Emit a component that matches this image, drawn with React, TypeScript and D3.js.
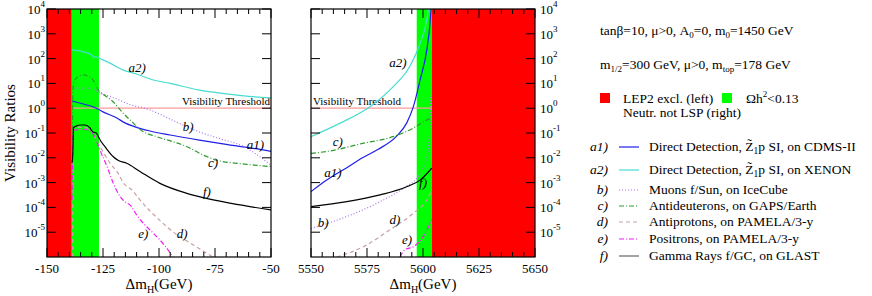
import React from 'react';
import * as d3 from 'd3';

type Pt = [number, number];

// ---- left panel (x = delta m_H, GeV) ----
const leftA1: Pt[] = [[-138.8, 1.95], [-135, 1.58], [-131, 1.26], [-128, 1.0], [-125, 0.71], [-118.8, 0.4], [-115, 0.25], [-111.6, 0.19], [-104, 0.12], [-95, 0.083], [-82, 0.052], [-70, 0.035], [-59, 0.025], [-50, 0.018]];
const leftA2: Pt[] = [[-138.8, 224], [-135, 200], [-130, 141], [-129, 112], [-128.3, 118], [-125, 89], [-121, 60], [-118.8, 46], [-115, 32], [-110, 24], [-104, 15], [-95, 10], [-82, 5.4], [-70, 3.8], [-60, 3.0], [-50, 2.6]];
const leftB: Pt[] = [[-138.5, 6.5], [-131, 6.5], [-129, 5.6], [-126, 4.0], [-121, 2.8], [-113, 1.4], [-104, 0.85], [-96, 0.4], [-82, 0.11], [-72, 0.056], [-62, 0.028], [-55, 0.011], [-50, 0.005]];
const leftC: Pt[] = [[-138.7, 0.008], [-138.4, 6.3], [-137.5, 14], [-135.5, 20], [-133.5, 22], [-131.5, 19], [-130, 16], [-128.6, 10], [-127, 5.4], [-124, 3.2], [-121, 2.0], [-116, 0.63], [-112, 0.28], [-108, 0.13], [-101, 0.071], [-94, 0.045], [-87.5, 0.028], [-80, 0.0126], [-74, 0.0079], [-62, 0.0056], [-50, 0.0044]];
const leftD: Pt[] = [[-138.6, 1e-6], [-138.2, 0.16], [-136, 0.17], [-131, 0.15], [-129.5, 0.1], [-128, 0.05], [-126, 0.025], [-122, 0.0063], [-118, 0.0022], [-116, 0.001], [-112, 5e-4], [-108.5, 2e-4], [-100, 3.2e-5], [-92, 7.9e-6], [-85, 3.2e-6], [-76, 1e-6]];
const leftE: Pt[] = [[-138.8, 2e-4], [-138.3, 0.13], [-133, 0.14], [-130, 0.11], [-128.5, 0.063], [-126.3, 0.02], [-123, 0.004], [-120.4, 9.3e-4], [-117, 2.5e-4], [-114.4, 1.5e-4], [-113, 1.26e-4], [-110, 5e-5], [-107, 2.3e-5], [-103, 1e-5], [-99.6, 4.9e-6], [-95, 1.45e-6], [-92.5, 6.3e-7]];
const leftF: Pt[] = [[-139, 0.0079], [-138.8, 0.0063], [-138.5, 0.012], [-138.2, 0.16], [-137, 0.19], [-135, 0.21], [-133, 0.21], [-130.8, 0.16], [-129.5, 0.11], [-128, 0.1], [-126.3, 0.052], [-123.7, 0.025], [-120.4, 0.011], [-118.3, 0.0079], [-114.4, 0.006], [-108.5, 0.0028], [-99.6, 9.3e-4], [-87.6, 3.7e-4], [-75.8, 2e-4], [-63.8, 1.26e-4], [-50, 7.9e-5]];

// ---- right panel ----
const rightA1: Pt[] = [[5550, 4.3e-4], [5557, 1.26e-3], [5566, 4e-3], [5573, 0.01], [5580, 0.022], [5588, 0.071], [5592.7, 0.25], [5595.7, 1.15], [5598.7, 13.8], [5601.7, 224], [5603, 1950], [5603.6, 1e4]];
const rightA2: Pt[] = [[5550, 0.071], [5563, 0.25], [5576.3, 1.15], [5586.7, 7.4], [5594, 47], [5598.7, 417], [5601.7, 3630], [5602.4, 1e4]];
const rightB: Pt[] = [[5550, 1.4e-5], [5566, 4.3e-5], [5580.8, 1.7e-4], [5591.2, 5.9e-4], [5598.7, 2.3e-3], [5601.7, 0.011], [5602.7, 0.05], [5603.5, 3]];
const rightC: Pt[] = [[5550, 0.015], [5560, 0.02], [5573, 0.038], [5586.6, 0.071], [5595.5, 0.155], [5601.6, 0.33], [5603.4, 0.39]];
const rightD: Pt[] = [[5561.5, 1e-6], [5573.4, 2.6e-6], [5585.3, 1.26e-5], [5595.7, 5.9e-5], [5601.7, 2e-4], [5603.9, 5e-4]];
const rightE: Pt[] = [[5589.7, 1e-6], [5592, 2e-6], [5595.7, 2.6e-6], [5600.1, 6.6e-6], [5603.9, 3.2e-5]];
const rightF: Pt[] = [[5550, 1.07e-4], [5566, 1.7e-4], [5580.8, 3.2e-4], [5592.7, 6.8e-4], [5598.7, 1.26e-3], [5603.9, 3.8e-3]];

const leftTicks = [-150, -125, -100, -75, -50];
const rightTicks = [5550, 5575, 5600, 5625, 5650];
const decades = [-5, -4, -3, -2, -1, 0, 1, 2, 3, 4];

const legendTags = ['a1)', 'a2)', 'b)', 'c)', 'd)', 'e)', 'f)'];
const legendTexts = [
  'Direct Detection, Z\u0303|1|p SI, on CDMS-II',
  'Direct Detection, Z\u0303|1|p SI, on XENON',
  'Muons f/Sun, on IceCube',
  'Antideuterons, on GAPS/Earth',
  'Antiprotons, on PAMELA/3-y',
  'Positrons, on PAMELA/3-y',
  'Gamma Rays f/GC, on GLAST',
];

const styles: Record<string, { color: string; dash?: string; legendColor?: string }> = {
  a1: { color: '#1f1fe6' },
  a2: { color: '#48dcd0' },
  b: { color: '#a872e8', dash: '1,2' },
  c: { color: '#2e9b2e', dash: '5,2,1,2' },
  d: { color: '#c8a0a0', dash: '4,3' },
  e: { color: '#f020f0', dash: '5,2,1,2' },
  f: { color: '#000000', legendColor: '#666' },
};
const seriesKeys = ['a1', 'a2', 'b', 'c', 'd', 'e', 'f'];

const W = 872, H = 296;
const TOP = 9, BOTTOM = 257;
const FONT = '"Liberation Serif", "Times New Roman", serif';

const y = d3.scaleLog().domain([1e-6, 1e4]).range([BOTTOM, TOP]);

const panels = [
  {
    id: 'L', x0: 47, x1: 271, domain: [-150, -50], red: [-150, -139], green: [-139, -126.8],
    ticks: leftTicks, thr: [-139, -50], thrAnchor: 'end',
    data: { a1: leftA1, a2: leftA2, b: leftB, c: leftC, d: leftD, e: leftE, f: leftF } as Record<string, Pt[]>,
    labels: [['a2)', -109.8, 42], ['b)', -87, 0.19], ['a1)', -57, 0.033], ['c)', -75.9, 0.0068], ['f)', -78.6, 4.2e-4], ['e)', -107, 9.3e-6], ['d)', -89.7, 9.3e-6]] as [string, number, number][],
  },
  {
    id: 'R', x0: 311, x1: 535, domain: [5550, 5650], red: [5604, 5650], green: [5597.2, 5604],
    ticks: rightTicks, thr: [5550, 5604], thrAnchor: 'start',
    data: { a1: rightA1, a2: rightA2, b: rightB, c: rightC, d: rightD, e: rightE, f: rightF } as Record<string, Pt[]>,
    labels: [['a2)', 5588.8, 72], ['c)', 5562, 0.044], ['a1)', 5559.8, 0.0025], ['b)', 5555.4, 2.5e-5], ['d)', 5587.5, 3.2e-5], ['e)', 5592.9, 5e-6], ['f)', 5600, 1.05e-3]] as [string, number, number][],
  },
];

function Sub({ text }: { text: string }) {
  // "a|b|c" -> a, subscript b, c
  const parts = text.split('|');
  return (
    <>
      {parts.map((p, i) =>
        i % 2 === 1 ? (
          <tspan key={i} fontSize="0.7em" dy="3">{p}</tspan>
        ) : (
          <tspan key={i} dy={i > 0 ? -3 : 0}>{p}</tspan>
        )
      )}
    </>
  );
}

function Panel({ p }: { p: typeof panels[number] }) {
  const x = d3.scaleLinear().domain(p.domain).range([p.x0, p.x1]);
  const line = d3.line<Pt>().x(d => x(d[0])).y(d => y(d[1])).curve(d3.curveMonotoneX);
  const minor = d3.range(p.domain[0], p.domain[1] + 0.1, 5);
  const clipId = `clip${p.id}`;
  return (
    <g>
      <defs>
        <clipPath id={clipId}>
          <rect x={p.x0} y={TOP} width={p.x1 - p.x0} height={BOTTOM - TOP} />
        </clipPath>
      </defs>
      <rect x={x(p.green[0])} y={TOP} width={x(p.green[1]) - x(p.green[0])} height={BOTTOM - TOP} fill="#00ff00" />
      <line x1={x(p.thr[0])} x2={x(p.thr[1])} y1={y(1)} y2={y(1)} stroke="#ff9a9a" strokeWidth={1.2} />
      <text x={p.thrAnchor === 'end' ? p.x1 - 1 : p.x0 + 2} y={y(1) - 3} fontSize={11} fontFamily={FONT} textAnchor={p.thrAnchor}>Visibility Threshold</text>
      <g clipPath={`url(#${clipId})`}>
        {seriesKeys.map(k => (
          <path key={k} d={line(p.data[k]) || ''} fill="none" stroke={styles[k].color} strokeWidth={1.2} strokeDasharray={styles[k].dash} />
        ))}
      </g>
      <rect x={x(p.red[0])} y={TOP} width={x(p.red[1]) - x(p.red[0])} height={BOTTOM - TOP} fill="#ff0000" />
      {p.labels.map(([t, lx, ly]) => (
        <text key={t} x={x(lx)} y={y(ly)} fontSize={13} fontStyle="italic" fontFamily={FONT} textAnchor="middle" dy="0.35em">{t}</text>
      ))}
      {/* frame */}
      <rect x={p.x0} y={TOP} width={p.x1 - p.x0} height={BOTTOM - TOP} fill="none" stroke="#000" strokeWidth={1.2} />
      {minor.map(v => {
        const major = v % 25 === 0;
        const len = major ? 9 : 5;
        return (
          <g key={v} stroke="#000" strokeWidth={1}>
            <line x1={x(v)} x2={x(v)} y1={BOTTOM} y2={BOTTOM - len} />
            <line x1={x(v)} x2={x(v)} y1={TOP} y2={TOP + len} />
          </g>
        );
      })}
      {decades.map(e => (
        <g key={e} stroke="#000" strokeWidth={1}>
          <line x1={p.x0} x2={p.x0 + 9} y1={y(10 ** e)} y2={y(10 ** e)} />
          <line x1={p.x1} x2={p.x1 - 9} y1={y(10 ** e)} y2={y(10 ** e)} />
        </g>
      ))}
      {p.ticks.map(v => (
        <text key={v} x={x(v)} y={BOTTOM + 16} fontSize={13} fontFamily={FONT} textAnchor="middle">{v}</text>
      ))}
      <text x={(p.x0 + p.x1) / 2} y={289} fontSize={15} fontFamily={FONT} textAnchor="middle">
        Δm<tspan fontSize={10} dy={4}>H</tspan><tspan dy={-4}>(GeV)</tspan>
      </text>
    </g>
  );
}

function YLabels({ xPos, anchor }: { xPos: number; anchor: 'start' | 'end' }) {
  return (
    <g fontFamily={FONT}>
      {decades.map(e => (
        <text key={e} x={xPos} y={y(10 ** e) + 5} fontSize={13} textAnchor={anchor}>
          10<tspan fontSize={9} dy={-7}>{e}</tspan>
        </text>
      ))}
    </g>
  );
}

export default function App() {
  const legY = [147, 170, 190, 206, 222, 239, 256];
  return (
    <svg width={W} height={H} style={{ position: 'absolute', left: 0, top: 0, background: '#fff' }} fontFamily={FONT}>
      {panels.map(p => <Panel key={p.id} p={p} />)}
      <YLabels xPos={45} anchor="end" />
      <YLabels xPos={540} anchor="start" />
      <text transform="translate(15,133) rotate(-90)" fontSize={15} textAnchor="middle">Visibility Ratios</text>

      {/* parameter notes */}
      <g fontSize={13.5}>
        <text x={600} y={35}>tanβ=10, μ&gt;0, A<tspan fontSize={9} dy={3}>0</tspan><tspan dy={-3}>=0, m</tspan><tspan fontSize={9} dy={3}>0</tspan><tspan dy={-3}>=1450 GeV</tspan></text>
        <text x={600} y={69}>m<tspan fontSize={9} dy={3}>1/2</tspan><tspan dy={-3}>=300 GeV, μ&gt;0, m</tspan><tspan fontSize={9} dy={3}>top</tspan><tspan dy={-3}>=178 GeV</tspan></text>
        <rect x={600} y={93} width={10} height={10} fill="#ff0000" />
        <text x={623} y={103}>LEP2 excl. (left)</text>
        <rect x={722} y={93} width={10} height={10} fill="#00ff00" />
        <text x={746} y={103}>Ωh<tspan fontSize={9} dy={-6}>2</tspan><tspan dy={6}>&lt;0.13</tspan></text>
        <text x={623} y={117}>Neutr. not LSP (right)</text>
      </g>

      {/* legend */}
      <g fontSize={13.5}>
        {seriesKeys.map((k, i) => (
          <g key={k}>
            <text x={608} y={legY[i] + 4} textAnchor="end" fontStyle="italic">{legendTags[i]}</text>
            <line x1={619} x2={639} y1={legY[i]} y2={legY[i]} stroke={styles[k].legendColor || styles[k].color} strokeWidth={1.2} strokeDasharray={styles[k].dash} />
            <text x={649} y={legY[i] + 4}><Sub text={legendTexts[i]} /></text>
          </g>
        ))}
      </g>
    </svg>
  );
}
